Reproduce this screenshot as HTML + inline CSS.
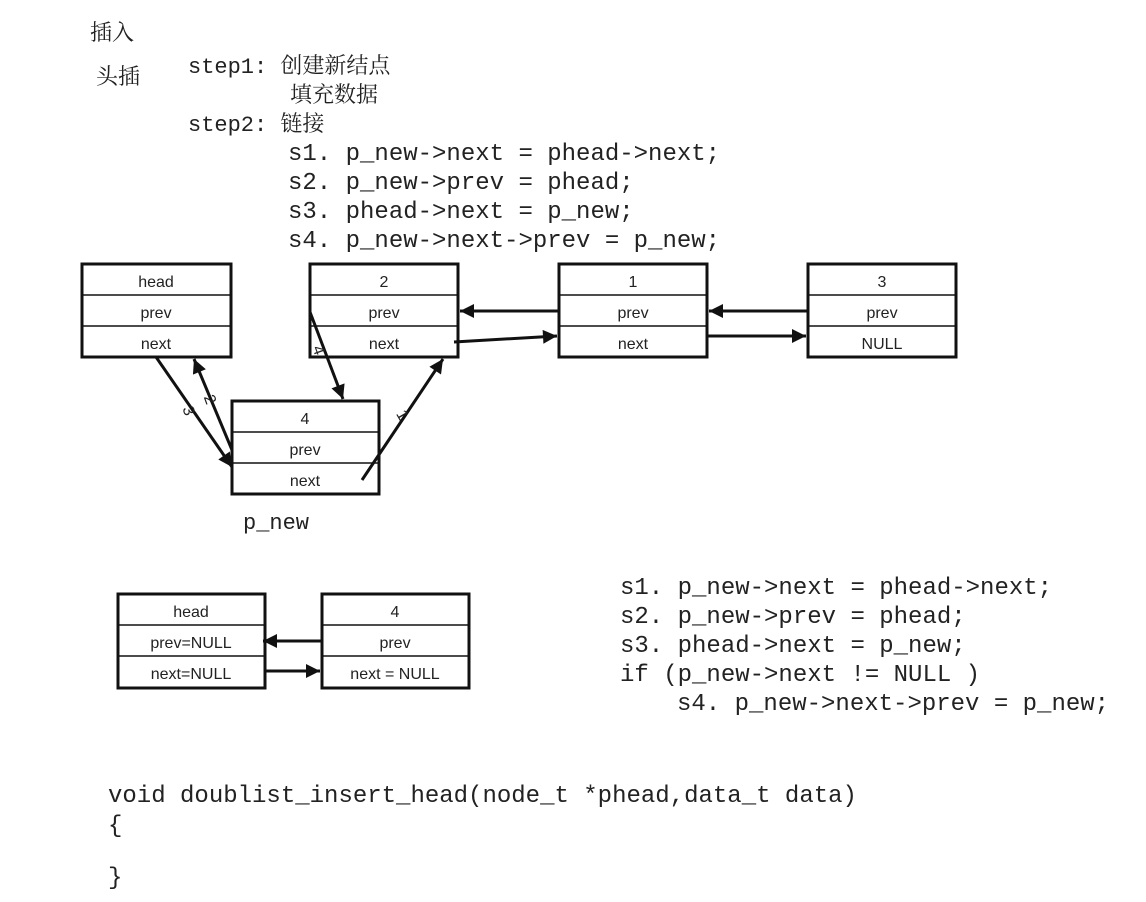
<!DOCTYPE html>
<html><head><meta charset="utf-8"><style>
html,body{margin:0;padding:0;background:#fff;}
svg text{font-family:"Liberation Mono","Noto Serif CJK SC",monospace;fill:#222;}
.b text{font-family:"Liberation Sans",sans-serif;font-size:16px;fill:#222;}
</style></head><body>
<svg width="1146" height="897" viewBox="0 0 1146 897" xmlns="http://www.w3.org/2000/svg">
<defs><marker id="a" markerWidth="10" markerHeight="10" refX="9" refY="5" orient="auto" markerUnits="userSpaceOnUse"><path d="M0,0 L10,5 L0,10 z" fill="#111" transform="scale(1.8) translate(-4.5,-2.2)"/></marker>
<marker id="h" viewBox="0 0 10 10" markerWidth="18" markerHeight="14" refX="10" refY="5" orient="auto" markerUnits="userSpaceOnUse"><path d="M0,0 L10,5 L0,10 z" fill="#111"/></marker></defs>
<g font-size="22">
<text x="90" y="40" font-family="Noto Serif CJK SC">插入</text>
<text x="96" y="84" font-family="Noto Serif CJK SC">头插</text>
<text x="188" y="73">step1: <tspan font-family="Noto Serif CJK SC">创建新结点</tspan></text>
<text x="290" y="102" font-family="Noto Serif CJK SC">填充数据</text>
<text x="188" y="131">step2: <tspan font-family="Noto Serif CJK SC">链接</tspan></text>
<text x="288" y="160" font-size="24">s1. p_new-&gt;next = phead-&gt;next;</text>
<text x="288" y="189" font-size="24">s2. p_new-&gt;prev = phead;</text>
<text x="288" y="218" font-size="24">s3. phead-&gt;next = p_new;</text>
<text x="288" y="247" font-size="24">s4. p_new-&gt;next-&gt;prev = p_new;</text>
<text x="243" y="529">p_new</text>
<text x="620" y="594" font-size="24">s1. p_new-&gt;next = phead-&gt;next;</text>
<text x="620" y="623" font-size="24">s2. p_new-&gt;prev = phead;</text>
<text x="620" y="652" font-size="24">s3. phead-&gt;next = p_new;</text>
<text x="620" y="681" font-size="24">if (p_new-&gt;next != NULL )</text>
<text x="677" y="710" font-size="24">s4. p_new-&gt;next-&gt;prev = p_new;</text>
<text x="108" y="802" font-size="24">void doublist_insert_head(node_t *phead,data_t data)</text>
<text x="108" y="832" font-size="24">{</text>
<text x="108" y="884" font-size="24">}</text>
</g>
<g class="b" stroke="#111" fill="none">
<g stroke-width="3"><rect x="82" y="264" width="149" height="93"/><rect x="310" y="264" width="148" height="93"/><rect x="559" y="264" width="148" height="93"/><rect x="808" y="264" width="148" height="93"/><rect x="232" y="401" width="147" height="93"/><rect x="118" y="594" width="147" height="94"/><rect x="322" y="594" width="147" height="94"/></g>
<g stroke-width="1.5">
<path d="M82 295H231M82 326H231M310 295H458M310 326H458M559 295H707M559 326H707M808 295H956M808 326H956M232 432H379M232 463H379M118 625H265M118 656H265M322 625H469M322 656H469"/>
</g>
<g stroke="none" text-anchor="middle">
<text x="156" y="287">head</text><text x="156" y="318">prev</text><text x="156" y="349">next</text>
<text x="384" y="287">2</text><text x="384" y="318">prev</text><text x="384" y="349">next</text>
<text x="633" y="287">1</text><text x="633" y="318">prev</text><text x="633" y="349">next</text>
<text x="882" y="287">3</text><text x="882" y="318">prev</text><text x="882" y="349">NULL</text>
<text x="305" y="424">4</text><text x="305" y="455">prev</text><text x="305" y="486">next</text>
<text x="191" y="617">head</text><text x="191" y="648">prev=NULL</text><text x="191" y="679">next=NULL</text>
<text x="395" y="617">4</text><text x="395" y="648">prev</text><text x="395" y="679">next = NULL</text>
</g>
<g stroke-width="3">
<path d="M559 311H460" marker-end="url(#h)"/>
<path d="M454 342L557 336" marker-end="url(#h)"/>
<path d="M808 311H709" marker-end="url(#h)"/>
<path d="M707 336H806" marker-end="url(#h)"/>
<path d="M156 357L232 467" marker-end="url(#h)"/>
<path d="M232 450L194 359" marker-end="url(#h)"/>
<path d="M362 480L443 359" marker-end="url(#h)"/>
<path d="M310 312L343 399" marker-end="url(#h)"/>
<path d="M322 641H263" marker-end="url(#h)"/>
<path d="M265 671H320" marker-end="url(#h)"/>
</g>
<g stroke="none" font-family="Liberation Serif" font-size="18" fill="#222">
<text x="184" y="418" transform="rotate(70 190 412)">3</text>
<text x="205" y="405" transform="rotate(70 210 400)">2</text>
<text x="312" y="356" transform="rotate(70 318 352)">4</text>
<text x="398" y="422" transform="rotate(60 404 416)">1</text>
</g>
</g>
</svg>
</body></html>
